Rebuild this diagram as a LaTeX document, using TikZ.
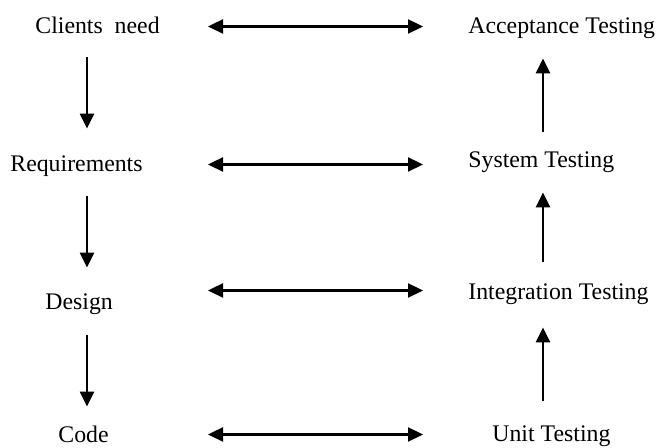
\documentclass[tikz,border=0pt]{standalone}
\usepackage{fontspec}
\setmainfont{Liberation Serif}
\usetikzlibrary{arrows.meta}
\begin{document}
\begin{tikzpicture}[x=0.5pt,y=-0.5pt,
  lbl/.style={inner sep=0pt, text height=8pt, text depth=2.5pt, anchor=base west,
    font=\fontsize{11.9}{14}\selectfont},
  flow/.style={line width=1.15pt, -{Triangle[length=7.5pt,width=7pt]}},
  both/.style={line width=1.15pt, {Triangle[length=7.5pt,width=7pt]}-{Triangle[length=7.5pt,width=7pt]}}]
\useasboundingbox (0,0) rectangle (660,448);
% left column
\node[lbl] (cn)   at (35,34)  {Clients~~need};
\node[lbl] (req)  at (10,172) {Requirements};
\node[lbl] (des)  at (45,310) {Design};
\node[lbl] (code) at (58,443) {Code};
% right column
\node[lbl] (at) at (468,34)  {Acceptance Testing};
\node[lbl] (st) at (468,168) {System Testing};
\node[lbl] (it) at (468,300) {Integration Testing};
\node[lbl] (ut) at (492,442) {Unit Testing};
% left vertical arrows
\draw[flow, shorten <=9pt, shorten >=13.5pt] ([xshift=26pt]cn.south west) -- ([xshift=26pt]cn.south west |- req.north);
\draw[flow, shorten <=9.5pt, shorten >=13pt] ([xshift=38.5pt]req.south west) -- ([xshift=38.5pt]req.south west |- des.north);
\draw[flow, shorten <=10pt, shorten >=10pt] ([xshift=21pt]des.south west) -- ([xshift=21pt]des.south west |- code.north);
% right vertical arrows
\draw[flow, shorten <=12.5pt, shorten >=11pt] ([xshift=25.5pt]ut.north west) -- ([xshift=25.5pt]ut.north west |- it.south);
\draw[flow, shorten <=11pt, shorten >=9.5pt] ([xshift=37.5pt]it.north west) -- ([xshift=37.5pt]st.south west);
\draw[flow, shorten <=10pt, shorten >=9.5pt] ([xshift=37.5pt]st.north west) -- ([xshift=37.5pt]at.south west);
% horizontal double arrows
\draw[both] ([xshift=86.5pt,yshift=1pt]cn.west) -- ([xshift=-22.5pt,yshift=1pt]at.west);
\draw[both] ([xshift=99pt,yshift=-1pt]st.west -| req.west) -- ([xshift=-22.5pt,yshift=-1pt]st.west);
\draw[both] ([xshift=81.5pt,yshift=2pt]it.west -| des.west) -- ([xshift=-22.5pt,yshift=2pt]it.west);
\draw[both] ([xshift=75pt,yshift=1.5pt]code.west) -- ([xshift=-34.5pt,yshift=1.5pt]code.west -| ut.west);
\end{tikzpicture}
\end{document}
